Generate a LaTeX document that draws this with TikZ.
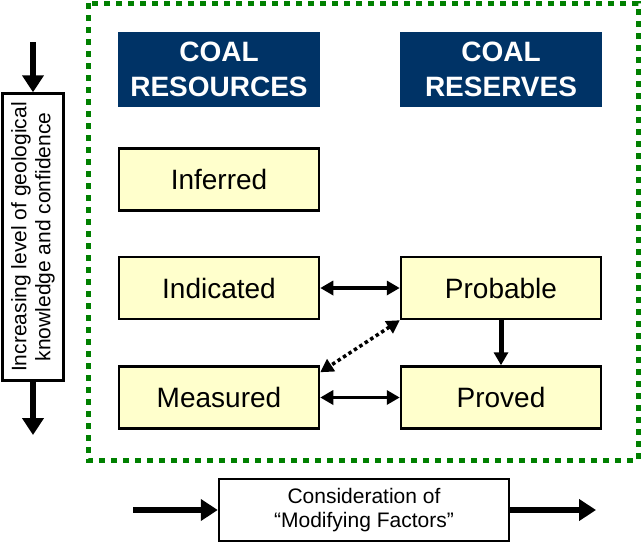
\documentclass[tikz,border=0pt]{standalone}
\usepackage{fontspec}
\setmainfont{Liberation Sans}
\usetikzlibrary{arrows.meta}
\definecolor{coalnavy}{RGB}{0,51,102}
\definecolor{coalyellow}{RGB}{255,255,204}
\definecolor{framegreen}{RGB}{0,128,0}
\tikzset{
	headbox/.style={fill=coalnavy, text=white, font=\fontsize{28}{35}\selectfont\bfseries, align=center, minimum width=202pt, minimum height=75pt, inner sep=0pt},
	levelbox/.style={draw=black, line width=2.5pt, fill=coalyellow, font=\fontsize{28}{32}\selectfont, minimum width=200pt, minimum height=62pt, inner sep=0pt},
	notebox/.style={draw=black, line width=2.5pt, fill=white, font=\fontsize{21}{24}\selectfont, align=center, inner sep=0pt},
	bigarrow/.style={line width=6pt, -{Triangle[length=17pt,width=21pt]}},
	linkarrow/.style={line width=3.5pt, {Triangle[length=13pt,width=14pt]}-{Triangle[length=13pt,width=14pt]}},
	downarrow/.style={line width=5pt, -{Triangle[length=13pt,width=14pt]}}
}
\begin{document}
\begin{tikzpicture}[x=1pt, y=-1pt]
			%%%%% FRAME %%%%%
			\useasboundingbox (0, 0) rectangle (641, 547);
			\draw[framegreen, line width=5pt, dash pattern=on 6pt off 6pt] (88, 3) rectangle (638, 460);
			
			%%%%% HEADINGS %%%%%
			\node[headbox] (reshead) at (219, 69) {COAL\\RESOURCES};
			\node[headbox] (rsvhead) at (501, 69) {COAL\\RESERVES};
			
			%%%%% CATEGORIES %%%%%
			\node[levelbox] (inferred) at (219, 179.5) {Inferred};
			\node[levelbox] (indicated) at (219, 288) {Indicated};
			\node[levelbox] (measured) at (219, 397.5) {Measured};
			\node[levelbox] (probable) at (501, 288) {Probable};
			\node[levelbox] (proved) at (501, 397.5) {Proved};
			
			\draw[linkarrow] (indicated) -- (probable);
			\draw[linkarrow] (measured) -- (proved);
			\draw[downarrow] (probable) -- (proved);
			\draw[linkarrow, line width=3.5pt, dash pattern=on 3.5pt off 3pt] (probable.south west) -- (measured.14);
			
			%%%%% CONFIDENCE %%%%%
			\node[notebox, rotate=90, minimum width=287pt, minimum height=61pt] (confbox) at (33, 237) {Increasing level of geological\\knowledge and confidence};
			\coordinate (conftop) at (33, 42);
			\coordinate (confbot) at (33, 435);
			\draw[bigarrow] (conftop) -- (confbox.east);
			\draw[bigarrow] (confbox.west) -- (confbot);
			
			%%%%% MODIFYING FACTORS %%%%%
			\node[notebox, minimum width=290pt, minimum height=62pt] (factbox) at (364, 510) {Consideration of\\``Modifying Factors''};
			\coordinate (factin) at (133, 510);
			\coordinate (factout) at (596, 510);
			\draw[bigarrow] (factin) -- (factbox);
			\draw[bigarrow] (factbox) -- (factout);
\end{tikzpicture}
\end{document}
